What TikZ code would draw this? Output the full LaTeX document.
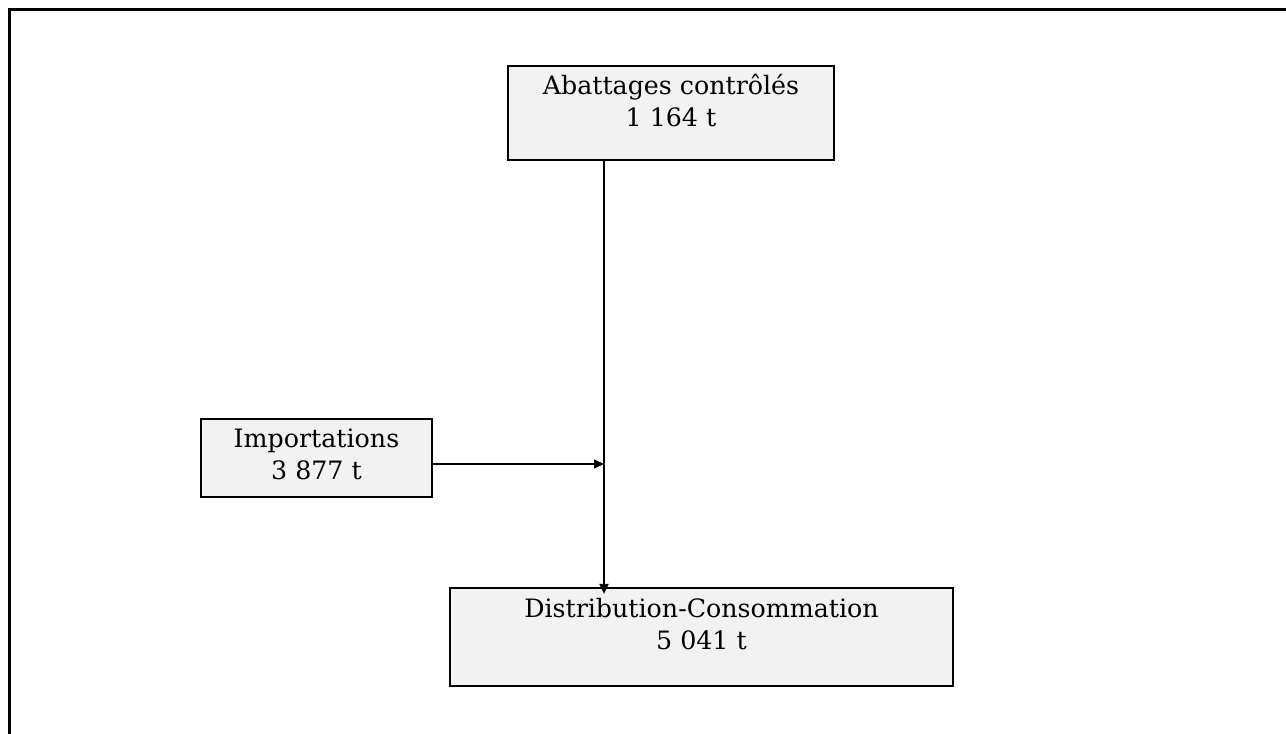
\documentclass[tikz,border=0pt]{standalone}
\usepackage{fontspec}
\setmainfont{DejaVu Serif}
\usetikzlibrary{arrows.meta}
\definecolor{boxfill}{HTML}{F2F2F2}
\tikzset{
  box/.style={draw=black, line width=2.2pt, fill=boxfill, inner sep=0pt},
  lbl/.style={align=center, inner sep=0pt, font=\fontsize{25.3}{32}\selectfont, anchor=north},
  conn/.style={draw=black, line width=1.8pt, -{Triangle[length=10pt,width=9pt]}},
  frame/.style={draw=black, line width=3.2pt}
}
\begin{document}
\begin{tikzpicture}[x=1pt,y=1pt]
\useasboundingbox (0,0) rectangle (1286,734);
% outer frame (top and left edges visible)
\coordinate (fbl) at (9.5,0);
\coordinate (ftl) at (9.5,724.5);
\coordinate (ftr) at (1286,724.5);
\draw[frame] (fbl) -- (ftl) -- (ftr);
% boxes
\node[box, minimum width=326pt, minimum height=94pt] (abat) at (671,621) {};
\node[box, minimum width=231pt, minimum height=78pt] (imp) at (316.5,276) {};
\node[box, minimum width=503pt, minimum height=98pt] (dist) at (701.5,97) {};
% texts
\node[lbl] (abatT) at ([yshift=-9pt]abat.north) {Abattages contrôlés\\1 164 t};
\node[lbl] (impT) at ([yshift=-11pt]imp.north) {Importations\\3 877 t};
\node[lbl] (distT) at ([yshift=-11pt]dist.north) {Distribution-Consommation\\5 041 t};
% junction
\coordinate (j) at (604,270);
\draw[draw=black, line width=1.8pt] (abat.south -| j) -- (j);
\draw[conn] (j) -- ([yshift=-7pt]dist.north -| j);
\draw[conn] (imp.east |- j) -- (j);
\end{tikzpicture}
\end{document}
